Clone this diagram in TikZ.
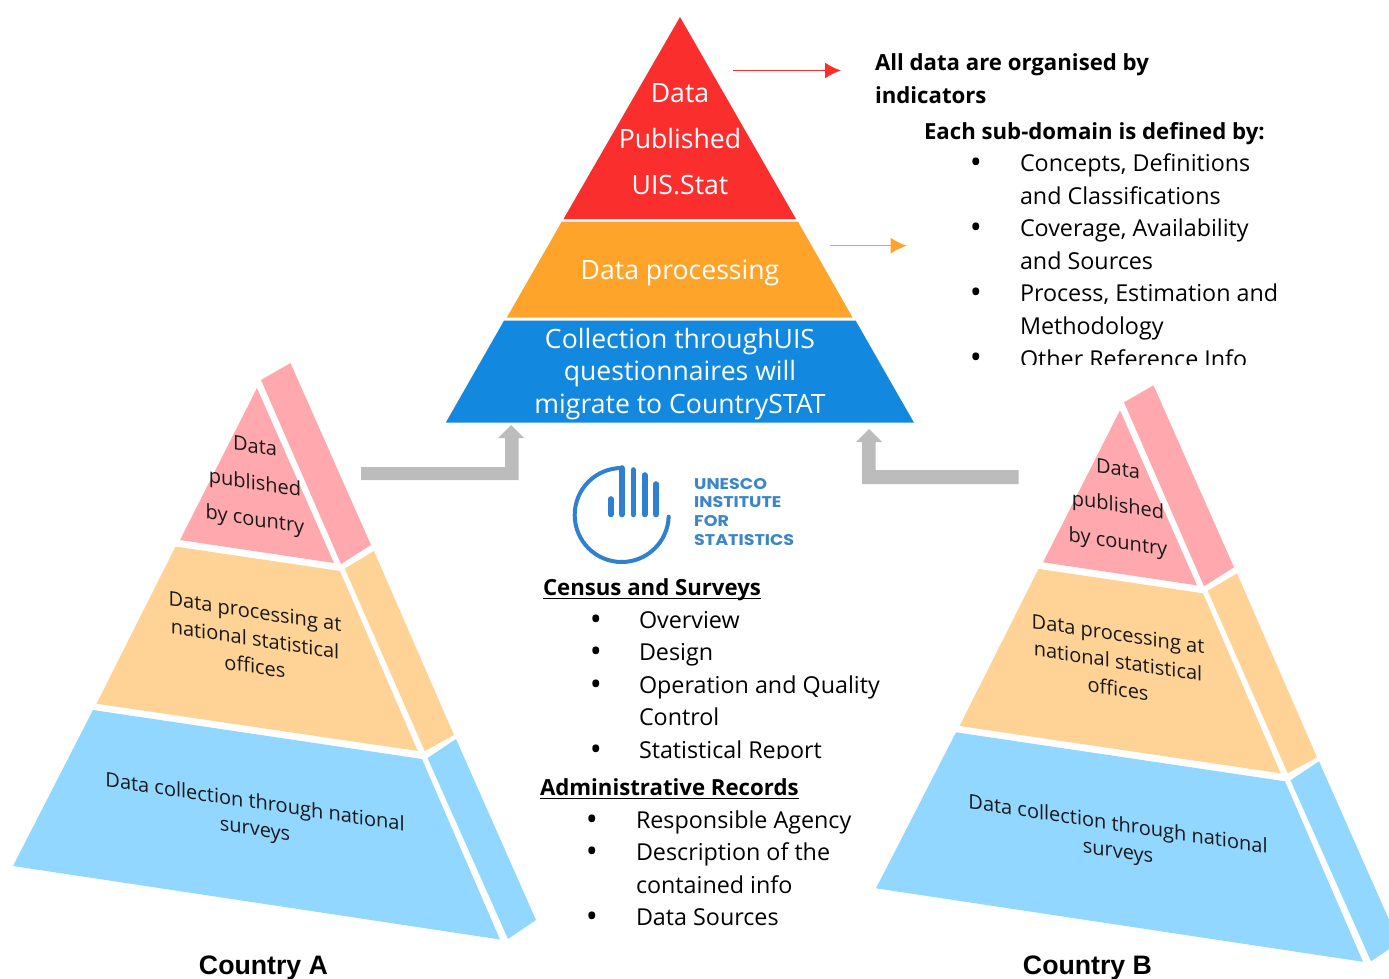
\documentclass[tikz,border=0pt]{standalone}
\usepackage{fontspec}
\usepackage{graphicx}
\setmainfont{Open Sans}
\newfontfamily\arialb[Scale=1]{Liberation Sans}
\newfontfamily\logofont{Poppins}
\definecolor{cRed}{HTML}{FB2E2E}
\definecolor{cOrange}{HTML}{FFA42B}
\definecolor{cBlue}{HTML}{1289DE}
\definecolor{cPink}{HTML}{FFA9AE}
\definecolor{cPeach}{HTML}{FFD296}
\definecolor{cSky}{HTML}{92D7FF}
\definecolor{cGray}{HTML}{BCBCBC}
\definecolor{cLogo}{HTML}{2F80CF}
\definecolor{cLogoT}{HTML}{3C86C8}
\newcommand{\fsz}[2]{\fontsize{#1}{#2}\selectfont}
\newcommand{\lgt}[1]{\scalebox{1.13}[1]{#1}}
\newcommand{\ulx}[1]{\setbox0=\hbox{#1}\rlap{\rule[-4.3pt]{\wd0}{1.8pt}}\box0}
\usetikzlibrary{arrows.meta}
\tikzset{
  tx/.style={anchor=base west,inner sep=0pt,outer sep=0pt,font=\fsz{23.3}{28},text=black},
  hd/.style={tx,font=\fsz{22.2}{28}\bfseries},
  wt/.style={anchor=base,inner sep=0pt,text=white,font=\fsz{26.6}{30}},
  ct/.style={anchor=base,inner sep=0pt,font=\arialb\fsz{26.7}{30}\bfseries,text=black},
  lg/.style={anchor=base west,inner sep=0pt,font=\logofont\fsz{15.5}{18}\bfseries,text=cLogoT},
  sh/.style={inner sep=0pt,align=center,text=black!90,transform shape},
  bl/.style={anchor=base,inner sep=0pt,font=\fsz{32}{32},text=black},
  larrow/.style={line width=1.5pt,-{Latex[length=16pt,width=16pt]}},
  lbar/.style={line width=5.6pt,line cap=round,cLogo},
}
\newcommand{\mypyr}[2]{%
\begin{scope}[shift={(#1,#2)}]
 \fill[cPink] (257,388)--(180,540)--(334,563)--cycle;
 \fill[cPink] (261,380)--(290.5,363)--(371,545)--(341,564)--cycle;
 \fill[cPeach] (175.5,546.6)--(96.5,703.7)--(417.7,751)--(340,571)--cycle;
 \fill[cPeach] (344.7,568.5)--(374,551)--(454,735)--(424.7,751)--cycle;
 \fill[cSky] (93,710)--(13,866)--(500,939.5)--(422,759)--cycle;
 \fill[cSky] (427.5,758)--(456,739)--(536,920)--(508,939)--cycle;
 \begin{scope}[shift={(255,485)},yslant=-0.15]
  \node[sh,font=\fsz{20}{36.5}] (pub#1) at (0,0) {Data\\published\\by country};
 \end{scope}
 \begin{scope}[shift={(255,639)},yslant=-0.15]
  \node[sh,font=\fsz{20}{27.5}] (proc#1) at (0,0) {Data processing at\\national statistical\\offices};
 \end{scope}
 \begin{scope}[shift={(255,817)},yslant=-0.15]
  \node[sh,font=\fsz{20}{27}] (coll#1) at (0,0) {Data collection through national\\surveys};
 \end{scope}
\end{scope}}
\begin{document}
\begin{tikzpicture}[x=1pt,y=-1pt]
\useasboundingbox (0,0) rectangle (1389,979);
\clip (0,0) rectangle (1389,979);
% central pyramid
\fill[cRed] (680,17)--(563.5,219)--(796,219)--cycle;
\fill[cOrange] (561.7,221.7)--(506.7,317.7)--(852.7,317.7)--(798,221.7)--cycle;
\fill[cBlue] (504,320.7)--(445.7,422.7)--(914,422.7)--(855.7,320.7)--cycle;
\node[wt] (t1) at (680,103) {Data};
\node[wt] (t2) at (680,149) {Published};
\node[wt] (t3) at (680,194) {UIS.Stat};
\node[wt] (t4) at (680,279) {Data processing};
\node[wt] (t5) at (680,348.5) {Collection throughUIS};
\node[wt] (t6) at (680,380.5) {questionnaires will};
\node[wt] (t7) at (680,413) {migrate to CountrySTAT};
% red and orange arrows
\coordinate (ra) at (733.3,70.5);
\coordinate (rb) at (841,70.5);
\coordinate (oa) at (830,245.7);
\coordinate (ob) at (906.7,245.7);
\draw[larrow,cRed] (ra) -- (rb);
\draw[larrow,cOrange] (oa) -- (ob);
% side pyramids
\mypyr{0}{0}
\mypyr{863}{22.3}
% grey arrows
\fill[cGray] (361,467)--(505,467)--(505,438)--(498,438)--(511,425)--(524,438)--(518.5,438)--(518.5,480)--(361,480)--cycle;
\fill[cGray] (869,429)--(882,442)--(875.5,442)--(875.5,470)--(1018.5,470)--(1018.5,484)--(862,484)--(862,442)--(856,442)--cycle;
% right text
\node[hd] (r1) at (875,70.5) {All data are organised by};
\node[hd] (r2) at (875,103.5) {indicators};
\node[hd] (r3) at (924,139.5) {Each sub-domain is defined by:};
\foreach \yy/\nn in {171/a,236/b,301/c,366/d}{\node[bl] (rb\nn) at (976,\yy+2) {•};}
\node[tx] (r4) at (1020,171.5) {Concepts, Definitions};
\node[tx] (r5) at (1020,204) {and Classifications};
\node[tx] (r6) at (1020,236) {Coverage, Availability};
\node[tx] (r7) at (1020,269) {and Sources};
\node[tx] (r8) at (1020,301) {Process, Estimation and};
\node[tx] (r9) at (1020,334) {Methodology};
\begin{scope}
\clip (1000,340) rectangle (1300,364.5);
\node[tx] (r10) at (1020,367) {Other Reference Info};
\end{scope}
% logo
\draw[cLogo,line width=4pt,line cap=round] (621.7,468) arc[start angle=90,end angle=358,x radius=47,y radius=-47];
\draw[lbar] (610.7,499) -- (610.7,514.5);
\draw[lbar] (621.7,468) -- (621.7,514.5);
\draw[lbar] (633.3,470) -- (633.3,514.5);
\draw[lbar] (644.7,475) -- (644.7,514.5);
\draw[lbar] (656,484) -- (656,514.5);
\node[lg] (l1) at (694,489) {\lgt{UNESCO}};
\node[lg] (l2) at (694,507.5) {\lgt{INSTITUTE}};
\node[lg] (l3) at (694,526.7) {\lgt{FOR}};
\node[lg] (l4) at (694,545.7) {\lgt{STATISTICS}};
% centre lists
\node[hd] (c0) at (543,595) {\ulx{Census and Surveys}};
\foreach \yy/\nn in {628/a,660/b,693/c,758/d}{\node[bl] (cb\nn) at (596,\yy+2) {•};}
\node[tx] (c1) at (639,628) {Overview};
\node[tx] (c2) at (639,660) {Design};
\node[tx] (c3) at (639,693) {Operation and Quality};
\node[tx] (c4) at (639,725) {Control};
\begin{scope}
\clip (630,735) rectangle (900,758.6);
\node[tx] (c5) at (639,758) {Statistical Report};
\end{scope}
\node[hd] (a0) at (540,795) {\ulx{Administrative Records}};
\foreach \yy/\nn in {828/a,860/b,925/c}{\node[bl] (ab\nn) at (592,\yy+2) {•};}
\node[tx] (a1) at (636,828) {Responsible Agency};
\node[tx] (a2) at (636,860) {Description of the};
\node[tx] (a3) at (636,893) {contained info};
\node[tx] (a4) at (636,925) {Data Sources};
% country labels
\node[ct] (ca) at (263.5,974.5) {Country A};
\node[ct] (cb) at (1087.5,974.5) {Country B};
\end{tikzpicture}
\end{document}
